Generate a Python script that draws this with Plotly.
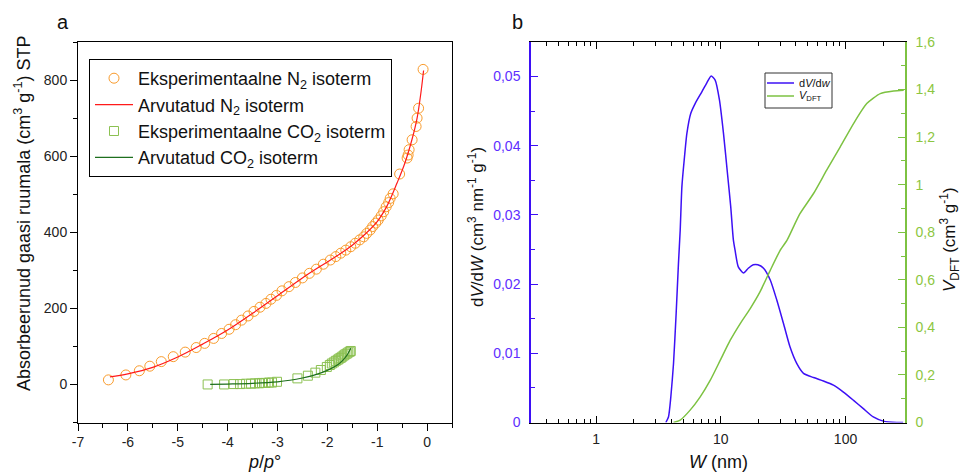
import math
import plotly.graph_objects as go

# ---------------- data (panel a) ----------------
N2_EXP_X = [-6.39, -6.04, -5.77, -5.56, -5.33, -5.09, -4.85, -4.63, -4.46, -4.28, -4.12, -3.97,
            -3.84, -3.72, -3.59, -3.47, -3.35, -3.23, -3.13, -3.02, -2.91, -2.77, -2.64, -2.50,
            -2.36, -2.22, -2.08, -1.94, -1.83, -1.73, -1.63, -1.53, -1.44, -1.35, -1.27, -1.21,
            -1.14, -1.09, -1.03, -0.98, -0.92, -0.87, -0.82, -0.77, -0.74, -0.68, -0.55, -0.40,
            -0.38, -0.36, -0.30, -0.22, -0.20, -0.17, -0.08]
N2_EXP_Y = [12, 25, 36, 48, 60, 73, 85, 97, 108, 121, 134, 145,
            157, 169, 180, 192, 203, 213, 224, 234, 246, 257, 268, 280,
            292, 303, 316, 327, 336, 345, 353, 362, 371, 380, 388, 397,
            406, 415, 424, 432, 443, 454, 467, 478, 489, 501, 553, 595,
            603, 617, 643, 678, 700, 726, 828]

N2_FIT_X = [-6.36, -6.0, -5.5, -5.0, -4.5, -4.0, -3.5, -3.0, -2.5, -2.0, -1.75, -1.5,
            -1.25, -1.0, -0.8, -0.6, -0.45, -0.3, -0.2, -0.12, -0.07]
N2_FIT_Y = [20, 28, 45, 72, 106, 143, 187, 233, 280, 322, 343, 366,
            394, 428, 470, 530, 580, 645, 700, 770, 825]

CO2_EXP_X = [-4.40, -4.07, -3.88, -3.75, -3.63, -3.53, -3.45, -3.37, -3.31, -3.24, -3.17, -3.11,
             -3.01, -2.60, -2.39, -2.24, -2.13, -2.01, -1.95, -1.91, -1.87, -1.83, -1.79, -1.76,
             -1.73, -1.70, -1.67, -1.64, -1.61, -1.58, -1.55, -1.53]
CO2_EXP_Y = [0, 0, 1, 1, 2, 2, 3, 3, 4, 4, 5, 5,
             7, 16, 23, 31, 38, 46, 51, 55, 58, 62, 65, 68,
             70, 73, 76, 79, 81, 84, 86, 88]

CO2_FIT_X = [-4.35, -4.0, -3.5, -3.0, -2.75, -2.5, -2.25, -2.0, -1.8, -1.7, -1.6, -1.53]
CO2_FIT_Y = [0, 1, 3, 7, 11, 17, 25, 37, 51, 62, 78, 95]

P_TICK_VALS = [-7, -6, -5, -4, -3, -2, -1, 0]
P_TICK_TEXT = ["-7", "-6", "-5", "-4", "-3", "-2", "-1", "0"]

# ---------------- data (panel b) ----------------
W_PSD = [3.62, 3.80, 3.97, 4.17, 4.38, 4.57, 4.72, 4.87, 5.08, 5.34, 5.74, 6.22, 7.04, 7.72,
         8.36, 9.0, 9.75, 10.5, 11.3, 12.0, 12.6, 13.0, 13.8, 15.2, 16.6, 18.2, 19.8, 22.0,
         24.9, 28.1, 31.8, 35.9, 40.7, 46.0, 55.4, 66.5, 80.0, 96.2, 116, 139, 167, 201, 258, 290]
DVDW = [0.0, 0.0008, 0.0037, 0.0085, 0.0158, 0.0230, 0.0278, 0.0341, 0.0379, 0.0418, 0.0447,
        0.0461, 0.0478, 0.0491, 0.0501, 0.0495, 0.0466, 0.0418, 0.0360, 0.0312, 0.0264, 0.0249,
        0.0225, 0.0216, 0.0223, 0.0228, 0.0228, 0.0223, 0.0206, 0.0177, 0.0143, 0.0109, 0.0085,
        0.0071, 0.0065, 0.0060, 0.0054, 0.0044, 0.0032, 0.0020, 0.0008, 0.0002, 0.0, 0.0]

W_CUM = [4.17, 4.72, 5.67, 6.83, 8.23, 9.90, 11.9, 14.3, 17.2, 20.6, 24.9, 29.9, 33.9, 37.1,
         43.1, 55.4, 70.6, 90.5, 116, 148, 190, 243, 293]
V_DFT = [0.0, 0.01, 0.052, 0.108, 0.178, 0.262, 0.346, 0.416, 0.479, 0.549, 0.640, 0.724, 0.766,
         0.808, 0.878, 0.963, 1.061, 1.158, 1.257, 1.341, 1.383, 1.394, 1.397]

W_TICK_VALS = [1, 10, 100]
W_TICK_TEXT = ["1", "10", "100"]

LEGEND_B = ["d<i>V</i>/d<i>w</i>", "<i>V</i><sub>DFT</sub>"]

# ---------------- styling ----------------
FW, FH = 961, 474
FONT = "Liberation Sans, Arial, Helvetica, sans-serif"
ORANGE = "#F99B2C"
RED = "#FF1A1A"
LGREEN = "#8CC152"
DGREEN = "#1E6F1E"
BLUE = "#3D10F5"
BLUE_T = "#5E2EFF"
GREEN = "#7DC242"
GREEN_T = "#8CC63F"
TXT = "#111111"


def px(x):
    return x / FW


def py(y):
    return 1 - y / FH


fig = go.Figure()

fig.add_trace(go.Scatter(x=N2_EXP_X, y=N2_EXP_Y, mode="markers",
                         name="Eksperimentaalne N<sub>2</sub> isoterm",
                         marker=dict(symbol="circle-open", size=10, color=ORANGE,
                                     line=dict(width=1, color=ORANGE)),
                         xaxis="x", yaxis="y"))
fig.add_trace(go.Scatter(x=N2_FIT_X, y=N2_FIT_Y, mode="lines",
                         name="Arvutatud N<sub>2</sub> isoterm",
                         line=dict(color=RED, width=1.2, shape="spline"),
                         xaxis="x", yaxis="y"))
fig.add_trace(go.Scatter(x=CO2_EXP_X, y=CO2_EXP_Y, mode="markers",
                         name="Eksperimentaalne CO<sub>2</sub> isoterm",
                         marker=dict(symbol="square-open", size=9, color=LGREEN,
                                     line=dict(width=1, color=LGREEN)),
                         xaxis="x", yaxis="y"))
fig.add_trace(go.Scatter(x=CO2_FIT_X, y=CO2_FIT_Y, mode="lines",
                         name="Arvutatud CO<sub>2</sub> isoterm",
                         line=dict(color=DGREEN, width=1.2, shape="spline"),
                         xaxis="x", yaxis="y"))

fig.add_trace(go.Scatter(x=W_PSD, y=DVDW, mode="lines", name=LEGEND_B[0], showlegend=False,
                         line=dict(color=BLUE, width=1.5, shape="spline", smoothing=0.6),
                         xaxis="x2", yaxis="y2"))
fig.add_trace(go.Scatter(x=W_CUM, y=V_DFT, mode="lines", name=LEGEND_B[1], showlegend=False,
                         line=dict(color=GREEN, width=1.5, shape="spline", smoothing=0.6),
                         xaxis="x2", yaxis="y3"))

dom_a = [px(78), px(452)]
dom_b = [px(531), px(905)]
dom_y = [py(422.5), py(42)]

TICK_SIZE = 14
tickfont = dict(family=FONT, size=TICK_SIZE, color="#222222")

fig.update_layout(
    width=FW, height=FH,
    margin=dict(l=0, r=0, t=0, b=0),
    paper_bgcolor="white", plot_bgcolor="white",
    font=dict(family=FONT, size=13, color=TXT),
    separators=",.",
    xaxis=dict(domain=dom_a, anchor="y", range=[-7, 0.5],
               tickmode="array", tickvals=P_TICK_VALS, ticktext=P_TICK_TEXT,
               ticks="outside", ticklen=7, tickwidth=1, tickcolor="black",
               minor=dict(tickmode="linear", tick0=-7, dtick=0.5, ticks="outside",
                          ticklen=4, tickwidth=1, tickcolor="black", showgrid=False),
               showline=True, linecolor="black", linewidth=1, mirror=True,
               showgrid=False, zeroline=False, tickfont=tickfont, automargin=False),
    yaxis=dict(domain=dom_y, anchor="x", range=[-100, 900],
               tickmode="linear", tick0=0, dtick=200,
               ticks="outside", ticklen=7, tickwidth=1, tickcolor="black",
               minor=dict(tickmode="linear", tick0=0, dtick=100, ticks="outside",
                          ticklen=4, tickwidth=1, tickcolor="black", showgrid=False),
               showline=True, linecolor="black", linewidth=1, mirror=True,
               showgrid=False, zeroline=False, tickfont=tickfont, automargin=False),
    xaxis2=dict(domain=dom_b, anchor="y2", type="log",
                range=[math.log10(0.3), math.log10(300)],
                tickmode="array", tickvals=W_TICK_VALS, ticktext=W_TICK_TEXT,
                ticks="inside", ticklen=7, tickwidth=1, tickcolor="black",
                minor=dict(ticks="inside", ticklen=4, tickwidth=1, tickcolor="black",
                           dtick="D1", showgrid=False),
                ticklabelstandoff=4,
                showline=True, linecolor="black", linewidth=1, mirror="ticks",
                showgrid=False, zeroline=False, tickfont=tickfont, automargin=False),
    yaxis2=dict(domain=dom_y, anchor="x2", range=[0, 0.055],
                tickmode="linear", tick0=0, dtick=0.01,
                ticks="inside", ticklen=7, tickwidth=1, tickcolor=BLUE,
                minor=dict(tickmode="linear", tick0=0, dtick=0.005, ticks="inside",
                           ticklen=4, tickwidth=1, tickcolor=BLUE, showgrid=False),
                ticklabelstandoff=6,
                showline=True, linecolor=BLUE, linewidth=1.5,
                showgrid=False, zeroline=False,
                tickfont=dict(family=FONT, size=TICK_SIZE, color=BLUE_T), automargin=False),
    yaxis3=dict(overlaying="y2", side="right", anchor="x2", range=[0, 1.6],
                tickmode="linear", tick0=0, dtick=0.2,
                ticks="inside", ticklen=7, tickwidth=1, tickcolor=GREEN,
                minor=dict(tickmode="linear", tick0=0, dtick=0.1, ticks="inside",
                           ticklen=4, tickwidth=1, tickcolor=GREEN, showgrid=False),
                ticklabelstandoff=6,
                showline=True, linecolor=GREEN, linewidth=1.5,
                showgrid=False, zeroline=False,
                tickfont=dict(family=FONT, size=TICK_SIZE, color=GREEN_T), automargin=False),
    legend=dict(x=px(89), y=py(59), xanchor="left", yanchor="top",
                bordercolor="black", borderwidth=1, bgcolor="white",
                font=dict(family=FONT, size=18, color=TXT),
                traceorder="normal", itemwidth=38),
    showlegend=True,
)

# legend box of panel b (small, drawn as a framed box)
fig.add_shape(type="rect", xref="paper", yref="paper",
              x0=px(765), x1=px(832), y0=py(108), y1=py(73),
              line=dict(color="#333333", width=1), fillcolor="white", layer="above")
for i, (lbl, col) in enumerate(zip(LEGEND_B, [BLUE, GREEN])):
    yy = 83 + 13 * i
    fig.add_shape(type="line", xref="paper", yref="paper",
                  x0=px(767), x1=px(794), y0=py(yy), y1=py(yy),
                  line=dict(color=col, width=1.5), layer="above")
    fig.add_annotation(text=lbl, x=px(797), y=py(yy), xref="paper", yref="paper",
                       showarrow=False, xanchor="left", yanchor="middle",
                       font=dict(family=FONT, size=11, color=TXT))

ann = [
    dict(text="a", x=px(63), y=py(22), size=20, angle=0),
    dict(text="b", x=px(517), y=py(22), size=20, angle=0),
    dict(text="Absorbeerunud gaasi ruumala (cm<sup>3</sup> g<sup>-1</sup>) STP",
         x=px(22), y=py(214), size=18, angle=-90),
    dict(text="<i>p</i>/<i>p</i>°", x=px(264), y=py(462), size=18, angle=0),
    dict(text="<i>W</i> (nm)", x=px(718), y=py(462), size=18, angle=0),
    dict(text="d<i>V</i>/d<i>W</i> (cm<sup>3</sup> nm<sup>-1</sup> g<sup>-1</sup>)",
         x=px(476), y=py(227), size=17, angle=-90),
    dict(text="<i>V</i><sub>DFT</sub> (cm<sup>3</sup> g<sup>-1</sup>)",
         x=px(949), y=py(240), size=17, angle=-90),
]
for a in ann:
    fig.add_annotation(text=a["text"], x=a["x"], y=a["y"], xref="paper", yref="paper",
                       showarrow=False, textangle=a["angle"], xanchor="center",
                       yanchor="middle", font=dict(family=FONT, size=a["size"], color=TXT))

fig.write_html("out.html")
